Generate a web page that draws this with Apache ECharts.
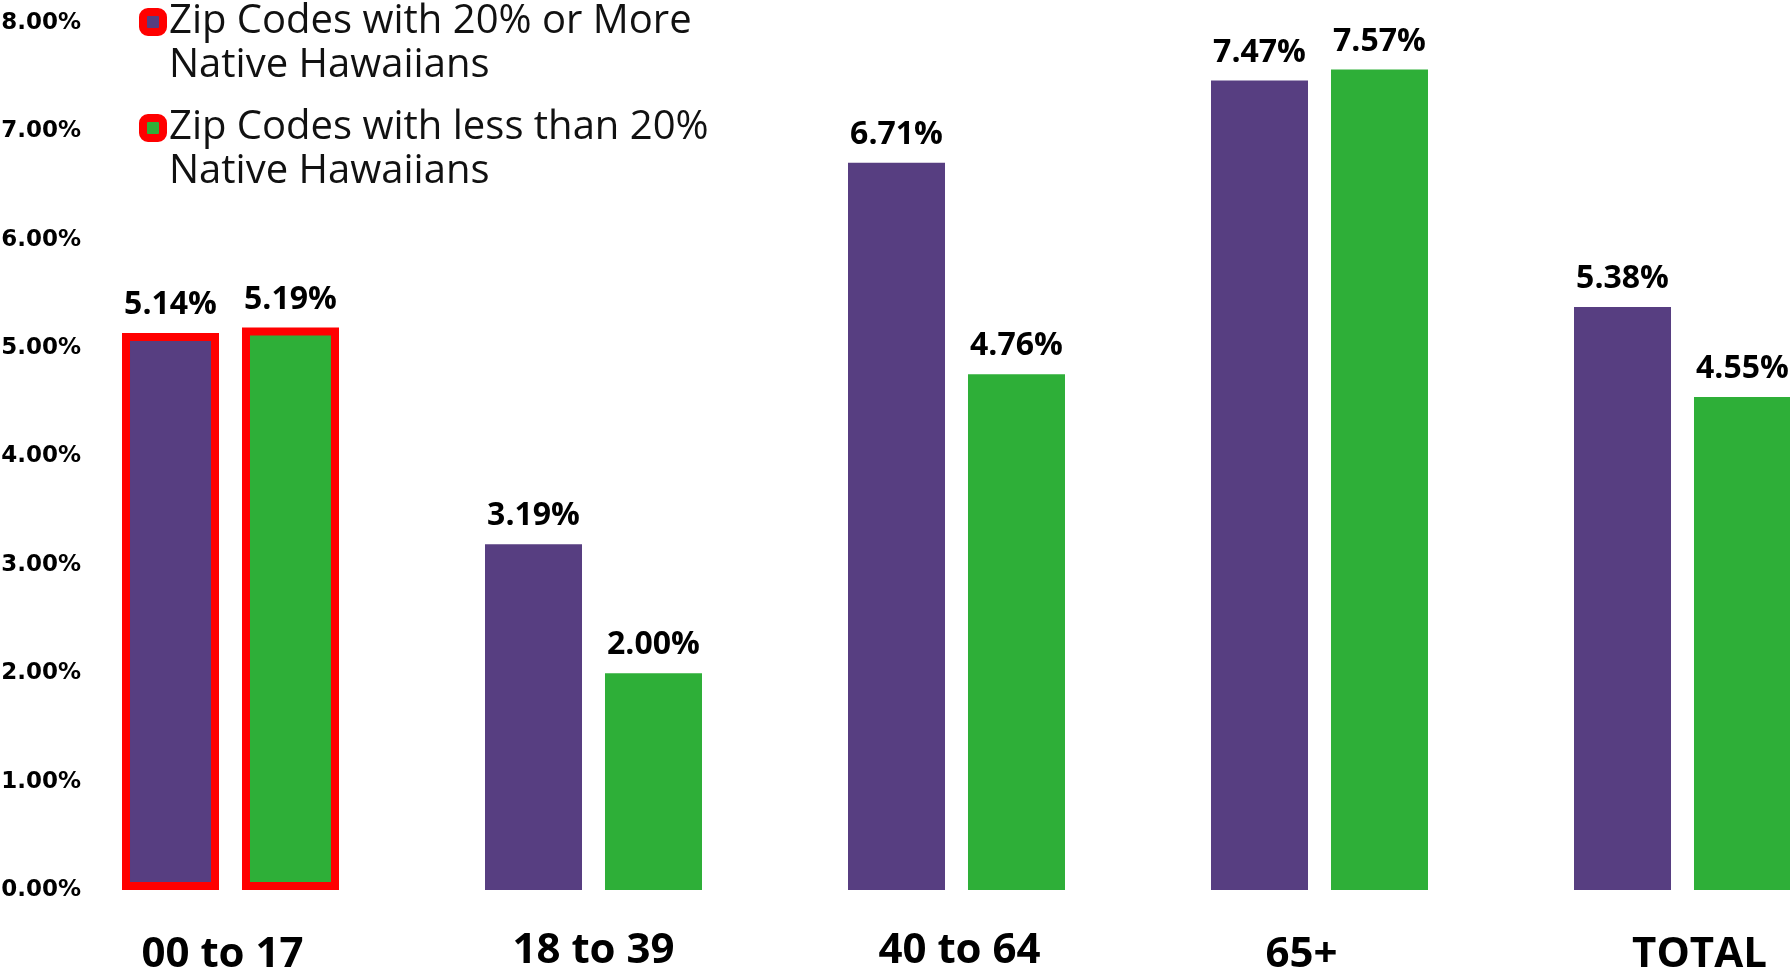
<!DOCTYPE html>
<html>
<head>
<meta charset="utf-8">
<script src="https://cdn.jsdelivr.net/npm/echarts@6/dist/echarts.min.js"></script>
<style>
html,body{margin:0;padding:0;background:#ffffff;}
#chart{width:1790px;height:977px;}
</style>
</head>
<body>
<div id="chart"></div>
<script>
const categories = ['00 to 17', '18 to 39', '40 to 64', '65+', 'TOTAL'];
const seriesNames = ['Zip Codes with 20% or More\nNative Hawaiians', 'Zip Codes with less than 20%\nNative Hawaiians'];
const moreNative = [5.14, 3.19, 6.71, 7.47, 5.38];
const lessNative = [5.19, 2.00, 4.76, 7.57, 4.55];
const yTicks = [0, 1, 2, 3, 4, 5, 6, 7, 8];
const highlightIndex = 0;

const PURPLE = '#573E81';
const GREEN = '#2EAF38';
const RED = '#FF0000';

function withHighlight(arr) {
  return arr.map((v, i) => i === highlightIndex
    ? { value: v, itemStyle: { borderColor: RED, borderWidth: 8 } }
    : v);
}

// small per-label nudges to mimic the reference's hand placement [dx, dy]
const labelNudge = [[-8, 4], [0, 0], [3, 0], [-18, 4], [17, 4]];
const xRich = {};
labelNudge.forEach((n, i) => {
  const dx = n[0], dy = n[1];
  xRich['l' + i] = {
    fontFamily: "'Open Sans', sans-serif",
    fontWeight: 'bold',
    fontSize: 42,
    color: '#000',
    padding: [dy, dx < 0 ? -2 * dx : 0, 0, dx > 0 ? 2 * dx : 0]
  };
});

const chart = echarts.init(document.getElementById('chart'));
const legendText = {
  fontFamily: "'Open Sans', sans-serif",
  fontWeight: 'normal',
  fontSize: 40,
  lineHeight: 44,
  color: '#111',
  padding: [0, 0, 0, 1]
};
const legendCommon = {
  left: 139, padding: 0,
  icon: 'roundRect', itemWidth: 20, itemHeight: 20,
  formatter: name => '\n' + name,
  textStyle: legendText
};
chart.setOption({
  backgroundColor: '#ffffff',
  animation: false,
  grid: { left: 49, width: 1815, top: 23, bottom: 87, containLabel: false, outerBoundsMode: 'none' },
  legend: [
    Object.assign({
      data: [{ name: seriesNames[0], itemStyle: { borderColor: RED, borderWidth: 8 } }],
      top: -44
    }, legendCommon),
    Object.assign({
      data: [{ name: seriesNames[1], itemStyle: { borderColor: RED, borderWidth: 8 } }],
      top: 62
    }, legendCommon)
  ],
  xAxis: {
    type: 'category',
    data: categories,
    axisLine: { show: false },
    axisTick: { show: false },
    axisLabel: {
      margin: 40,
      fontFamily: "'Open Sans', sans-serif",
      fontWeight: 'bold',
      fontSize: 42,
      color: '#000',
      formatter: (v, i) => '{l' + i + '|' + v + '}',
      rich: xRich
    }
  },
  yAxis: {
    type: 'value',
    min: 0, max: 8, interval: 1,
    splitLine: { show: false },
    axisLine: { show: false },
    axisTick: { show: false },
    axisLabel: {
      margin: -32,
      align: 'right',
      fontFamily: "'DejaVu Sans', sans-serif",
      fontWeight: 'bold',
      fontSize: 23,
      color: '#000',
      formatter: v => yTicks.includes(v) ? v.toFixed(2) + '%' : ''
    }
  },
  series: [
    {
      name: seriesNames[0], type: 'bar',
      data: withHighlight(moreNative),
      barWidth: 97, barGap: '23.7%',
      itemStyle: { color: PURPLE },
      label: {
        show: true, position: 'top', distance: 12,
        formatter: p => p.value.toFixed(2) + '%',
        fontFamily: "'Open Sans', sans-serif", fontWeight: 'bold', fontSize: 32, color: '#000'
      }
    },
    {
      name: seriesNames[1], type: 'bar',
      data: withHighlight(lessNative),
      barWidth: 97,
      itemStyle: { color: GREEN },
      label: {
        show: true, position: 'top', distance: 12,
        formatter: p => p.value.toFixed(2) + '%',
        fontFamily: "'Open Sans', sans-serif", fontWeight: 'bold', fontSize: 32, color: '#000'
      }
    }
  ]
});
</script>
</body>
</html>
